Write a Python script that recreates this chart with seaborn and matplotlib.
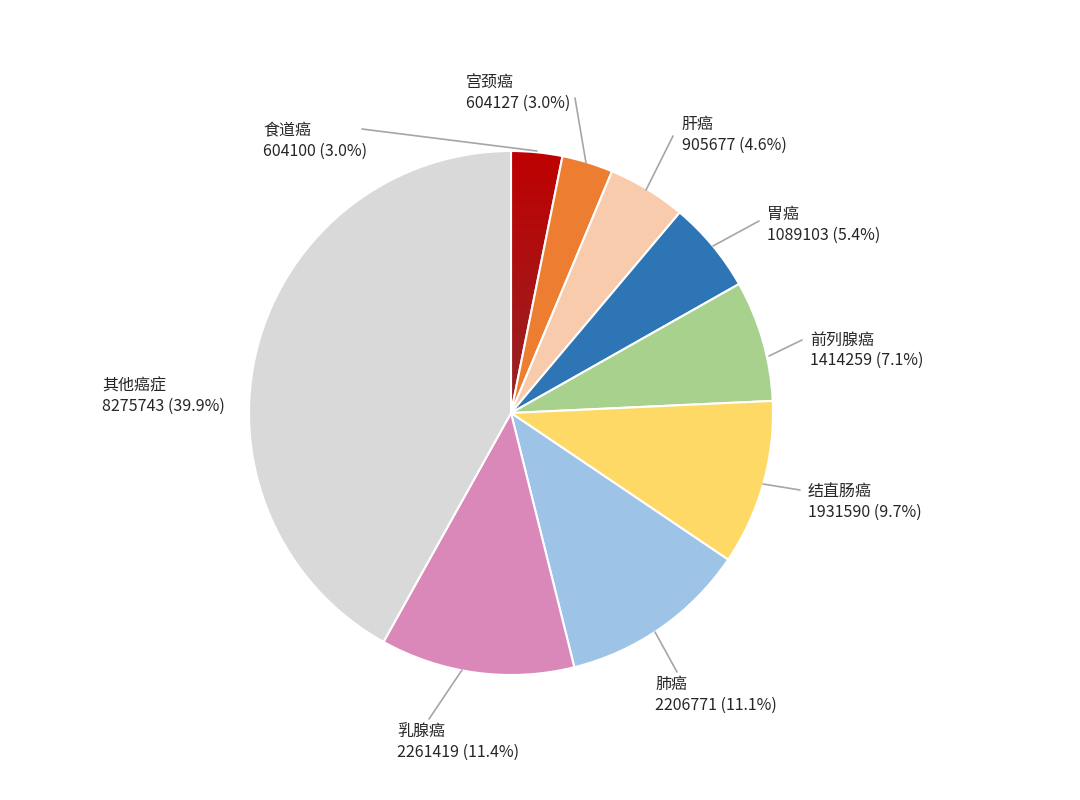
import numpy as np
import matplotlib.pyplot as plt
import seaborn as sns
from matplotlib.colors import LinearSegmentedColormap

# 数据
cancer_types = ['食道癌', '宫颈癌', '肝癌', '胃癌', '前列腺癌', '结直肠癌', '肺癌', '乳腺癌', '其他癌症']
cases = [604100, 604127, 905677, 1089103, 1414259, 1931590, 2206771, 2261419, 8275743]
percents = [3.0, 3.0, 4.6, 5.4, 7.1, 9.7, 11.1, 11.4, 39.9]
colors = ['#c00000', '#ed7d31', '#f8cbad', '#2e75b6', '#a9d18e', '#ffd966', '#9dc3e6', '#d988b9', '#d9d9d9']

# 标签位置 (像素)、引导线起点和终点
label_pos = [(263, 141), (466, 93), (682, 135), (767, 225), (810, 350),
             (808, 502), (655, 695), (397, 742), (102, 396)]
line_start = [(537, 151), (586, 163), (646, 190), (713, 246), (769, 356),
              (763, 484), (655, 632), (462, 670), None]
line_end = [(362, 129), (575, 98), (673, 136), (759, 221), (802, 340),
            (800, 490), (677, 672), (429, 719), None]

sns.set_theme(style='white')
plt.rcParams['font.family'] = ['Noto Sans CJK SC', 'DejaVu Sans']

CX, CY, R = 511, 413, 262


def px(x, y):
    return (x - CX) / R, (CY - y) / R


fig = plt.figure(figsize=(10.8, 8), dpi=100)
ax = fig.add_axes([0, 0, 1, 1])

# 扇区按百分比绘制
wedges, _ = ax.pie(percents, colors=colors, startangle=90, counterclock=False, radius=1,
                   wedgeprops=dict(edgecolor='white', linewidth=1.5, zorder=2))

# 第一块用渐变色
grad = np.linspace(0, 1, 256).reshape(-1, 1)
cmap = LinearSegmentedColormap.from_list('red_grad', ['#c00000', '#942427'])
im = ax.imshow(grad, extent=[-0.05, 0.3, 0, 1.02], cmap=cmap, origin='upper',
               aspect='auto', zorder=1.5)
im.set_clip_path(wedges[0])
wedges[0].set_facecolor('none')

for name, n, pct, (lx, ly), start, end in zip(cancer_types, cases, percents, label_pos, line_start, line_end):
    if end is not None:
        sx, sy = px(*start)
        ex, ey = px(*end)
        ax.plot([sx, ex], [sy, ey], color='#a6a6a6', lw=1.2, zorder=3)
    tx, ty = px(lx, ly)
    ax.text(tx, ty, f'{name}\n{n} ({pct:.1f}%)', ha='left', va='center', fontsize=11.5,
            color='#262626', linespacing=1.25)

ax.set_xlim(-CX / R, (1080 - CX) / R)
ax.set_ylim(-(800 - CY) / R, CY / R)
ax.set_aspect('auto')
ax.axis('off')

fig.savefig('out.png', dpi=100)
